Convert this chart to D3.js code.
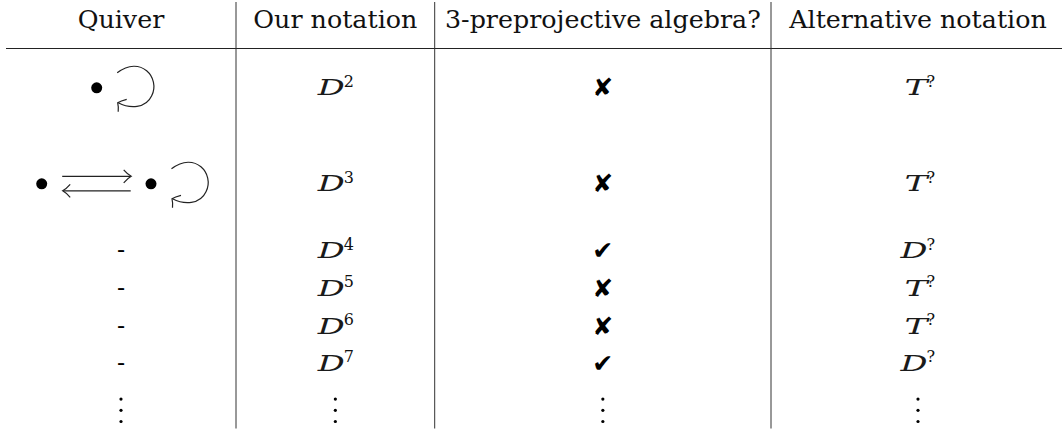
<!DOCTYPE html>
<html>
<head>
<meta charset="utf-8">
<script src="https://cdn.jsdelivr.net/npm/d3@7"></script>
<style>
  html, body { margin: 0; padding: 0; background: #fff; }
  svg { display: block; }
</style>
</head>
<body>
<svg id="chart"></svg>
<script>
// table contents
const headers = ["Quiver", "Our notation", "3-preprojective algebra?", "Alternative notation"];
const quiverKinds = ["loop", "pairLoop", "none", "none", "none", "none", "more"];
const ourExponents = ["2", "3", "4", "5", "6", "7", null];
const isPreprojective = [false, false, true, false, false, true, null];
const altLetters = ["T", "T", "D", "T", "T", "D", null];
const altSup = "?";

// layout
const width = 1062, height = 430;
const colEdges = [6, 236, 434.7, 771, 1065];
const headerBaseline = 27.6;
const ruleY = 48.5;
const firstBaseline = 95;
const rowGaps = [0, 96, 67, 37.7, 37.8, 37, 51];
const serif = "'DejaVu Serif', serif";
const dingFont = "'DejaVu Sans', sans-serif";

const svg = d3.select('#chart').attr('width', width).attr('height', height);
svg.append('rect').attr('width', width).attr('height', height).attr('fill', '#fff');

const colX = d3.scaleOrdinal()
    .domain(d3.range(4))
    .range(d3.range(4).map(i => (colEdges[i] + colEdges[i + 1]) / 2));
const rowY = d3.scaleOrdinal()
    .domain(d3.range(quiverKinds.length))
    .range(Array.from(d3.cumsum(rowGaps), v => firstBaseline + v));

// rules
svg.append('line')
    .attr('x1', colEdges[0]).attr('x2', width)
    .attr('y1', ruleY).attr('y2', ruleY)
    .attr('stroke', '#222').attr('stroke-width', 1.1);

svg.selectAll('line.vrule')
    .data(colEdges.slice(1, 4))
    .enter()
    .append('line')
    .attr('class', 'vrule')
    .attr('x1', d => d).attr('x2', d => d)
    .attr('y1', 2).attr('y2', 428.5)
    .attr('stroke', '#333').attr('stroke-width', 1);

// header row
const heads = svg.selectAll('text.head')
    .data(headers)
    .enter()
    .append('text')
    .attr('class', 'head')
    .attr('x', (d, i) => colX(i))
    .attr('y', headerBaseline)
    .attr('text-anchor', 'middle')
    .attr('font-family', serif)
    .attr('font-size', 25)
    .attr('fill', '#111')
    .text(d => d);

// "Our notation" is 164px wide in the original
const ratio = 164 / heads.filter((d, i) => i === 1).node().getComputedTextLength();
heads.each(function () {
    const w = this.getComputedTextLength();
    d3.select(this).attr('textLength', w * ratio).attr('lengthAdjust', 'spacingAndGlyphs');
});

// helpers
function vdots(cx, base) {
    [0, 11.2, 22.4].forEach(off => {
        svg.append('circle').attr('cx', cx).attr('cy', base - off).attr('r', 1.6).attr('fill', '#000');
    });
}

function mathSym(cx, base, letter, sup) {
    const stretch = letter === 'D' ? 27 : 23;
    svg.append('text')
        .attr('x', cx + 9.5 - stretch)
        .attr('y', base)
        .attr('font-family', serif)
        .attr('font-size', 22)
        .attr('font-style', 'italic')
        .attr('fill', '#1a1a1a')
        .attr('textLength', stretch)
        .attr('lengthAdjust', 'spacingAndGlyphs')
        .text(letter);
    svg.append('text')
        .attr('x', cx + 8.5)
        .attr('y', base - 8.3)
        .attr('font-family', serif)
        .attr('font-size', 16)
        .attr('fill', '#111')
        .text(sup);
}

const lineColor = '#222';

function bullet(g, x, y) {
    g.append('circle').attr('cx', x).attr('cy', y).attr('r', 5.5).attr('fill', '#000');
}

function loopAt(g, bx, by) {
    g.append('path')
        .attr('d', `M${bx + 20.5},${by - 15} C${bx + 44},${by - 33} ${bx + 64},${by - 10} ${bx + 55},${by + 8} C${bx + 49},${by + 21} ${bx + 33},${by + 21} ${bx + 21.5},${by + 15}`)
        .attr('fill', 'none').attr('stroke', lineColor).attr('stroke-width', 1.2);
    g.append('path')
        .attr('d', `M${bx + 30},${by + 11.5} Q${bx + 24},${by + 13} ${bx + 21},${by + 15} Q${bx + 22},${by + 19} ${bx + 21.5},${by + 24}`)
        .attr('fill', 'none').attr('stroke', lineColor).attr('stroke-width', 1.2);
}

function arrowRight(g, x1, x2, y) {
    g.append('line').attr('x1', x1).attr('x2', x2).attr('y1', y).attr('y2', y)
        .attr('stroke', lineColor).attr('stroke-width', 1.2);
    g.append('path')
        .attr('d', `M${x2 - 7},${y - 6.5} Q${x2 - 3},${y - 2} ${x2 + 0.5},${y} Q${x2 - 3},${y + 2} ${x2 - 7},${y + 6.5}`)
        .attr('fill', 'none').attr('stroke', lineColor).attr('stroke-width', 1.2);
}

function arrowLeft(g, x1, x2, y) {
    g.append('line').attr('x1', x1).attr('x2', x2).attr('y1', y).attr('y2', y)
        .attr('stroke', lineColor).attr('stroke-width', 1.2);
    g.append('path')
        .attr('d', `M${x1 + 7},${y - 6.5} Q${x1 + 3},${y - 2} ${x1 - 0.5},${y} Q${x1 + 3},${y + 2} ${x1 + 7},${y + 6.5}`)
        .attr('fill', 'none').attr('stroke', lineColor).attr('stroke-width', 1.2);
}

// body rows
quiverKinds.forEach((kind, i) => {
    const base = rowY(i);
    const axis = base - 7.2;
    const g = svg.append('g');
    const cx = colX(0);

    if (kind === 'loop') {
        bullet(g, cx - 24.3, axis);
        loopAt(g, cx - 24.3, axis);
    } else if (kind === 'pairLoop') {
        const b1 = cx - 79.3;
        bullet(g, b1, axis);
        arrowRight(g, b1 + 20.5, b1 + 89, axis - 7.5);
        arrowLeft(g, b1 + 21.5, b1 + 89, axis + 7);
        bullet(g, b1 + 109.3, axis);
        loopAt(g, b1 + 109.3, axis);
    } else if (kind === 'none') {
        svg.append('text')
            .attr('x', cx).attr('y', base)
            .attr('text-anchor', 'middle')
            .attr('font-family', serif).attr('font-size', 24).attr('fill', '#000')
            .text('-');
    } else {
        vdots(cx, base);
    }

    // our notation
    if (ourExponents[i] === null) vdots(colX(1), base);
    else mathSym(colX(1), base, 'D', ourExponents[i]);

    // preprojective?
    if (isPreprojective[i] === null) vdots(colX(2), base);
    else svg.append('text')
        .attr('x', colX(2)).attr('y', base + 1)
        .attr('text-anchor', 'middle')
        .attr('font-family', dingFont).attr('font-size', 25).attr('fill', '#000')
        .text(isPreprojective[i] ? '\u2714' : '\u2718');

    // alternative notation
    if (altLetters[i] === null) vdots(colX(3), base);
    else mathSym(colX(3), base, altLetters[i], altSup);
});
</script>
</body>
</html>
